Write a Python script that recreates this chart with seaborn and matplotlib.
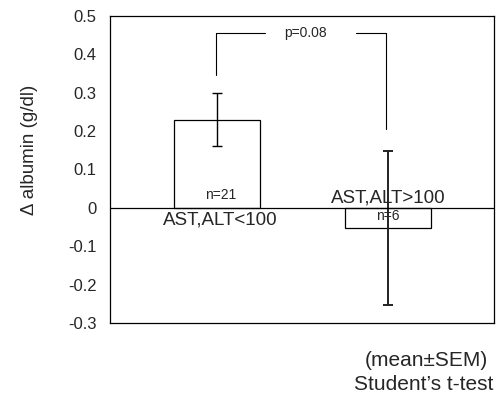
import matplotlib
matplotlib.use("Agg")
import matplotlib.pyplot as plt
import seaborn as sns
import pandas as pd

categories = ["AST,ALT<100", "AST,ALT>100"]
means = [0.23, -0.052]
sems = [0.07, 0.2]
n_labels = ["n=21", "n=6"]
yticks = [-0.3, -0.2, -0.1, 0, 0.1, 0.2, 0.3, 0.4, 0.5]
ytick_labels = ["-0.3", "-0.2", "-0.1", "0", "0.1", "0.2", "0.3", "0.4", "0.5"]
p_text = "p=0.08"

sns.set_theme(style="white")
plt.rcParams["font.family"] = ["Liberation Sans", "DejaVu Sans"]

df = pd.DataFrame({"group": categories, "delta": means})

fig = plt.figure(figsize=(5.0, 3.93), dpi=100)
ax = fig.add_axes([110 / 500, 1 - 323 / 393, (494 - 110) / 500, (323 - 16) / 393])

sns.barplot(data=df, x="group", y="delta", ax=ax, color="white",
            edgecolor="black", linewidth=0.9, width=0.5, errorbar=None)
ax.errorbar([0], means[:1], yerr=sems[:1], fmt="none", ecolor="black",
            elinewidth=1.0, capsize=3.3, capthick=1.0)
ax.errorbar([1], means[1:], yerr=sems[1:], fmt="none", ecolor="#222222",
            elinewidth=1.4, capsize=3.3, capthick=1.4)

ax.axhline(0, color="black", linewidth=0.9)
ax.set_xlim(-0.626, 1.62)
ax.set_ylim(-0.3, 0.5)
ax.set_yticks(yticks)
ax.set_yticklabels(ytick_labels, fontsize=12)
ax.tick_params(axis="y", length=0, pad=9.5)
ax.set_xticks([])
ax.set_xlabel("")
ax.set_ylabel("")
for s in ax.spines.values():
    s.set_color("black")
    s.set_linewidth(0.9)

fig.text(30 / 500, 1 - 150 / 393, "Δ albumin (g/dl)", rotation=90,
         ha="center", va="center", fontsize=13.5)

# category labels
ax.text(0.02, -0.01, categories[0], ha="center", va="top", fontsize=13.5)
ax.text(1.0, 0.003, categories[1], ha="center", va="bottom", fontsize=13.5)
# n labels
ax.text(0.02, 0.015, n_labels[0], ha="center", va="bottom", fontsize=10)
ax.text(1.0, -0.022, n_labels[1], ha="center", va="center", fontsize=10)

# significance bracket
yb = 0.456
ax.plot([-0.005, -0.005, 0.28], [0.346, yb, yb], color="black", linewidth=0.8)
ax.plot([0.81, 0.99, 0.99], [yb, yb, 0.206], color="black", linewidth=0.8)
ax.text(0.52, yb, p_text, ha="center", va="center", fontsize=10)

fig.text(426 / 500, 1 - 361 / 393, "(mean±SEM)", ha="center", va="center", fontsize=15)
fig.text(424 / 500, 1 - 384 / 393, "Student’s t-test", ha="center", va="center", fontsize=15)

fig.savefig("out.png", dpi=100)
